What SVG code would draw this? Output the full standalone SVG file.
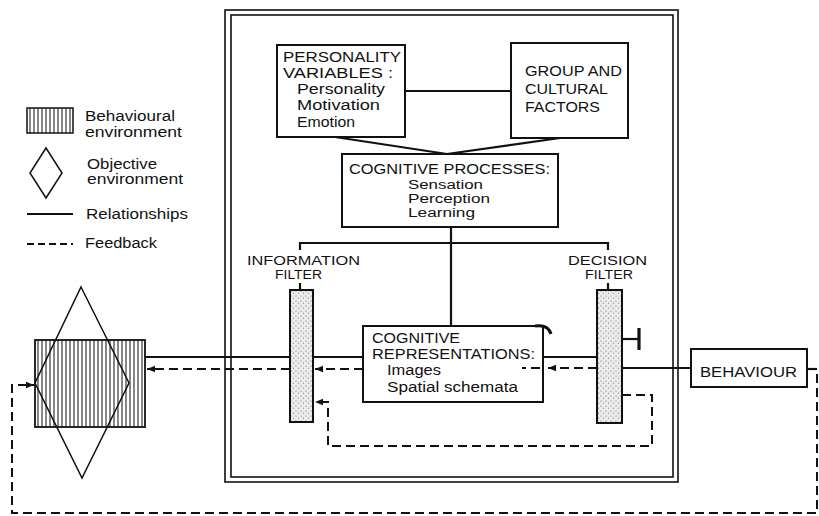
<svg xmlns="http://www.w3.org/2000/svg" width="819" height="516" viewBox="0 0 819 516">
<style>
text{font-family:"Liberation Sans",Arial,sans-serif;font-size:14px;fill:#111}
.lg{font-size:14px}
.sm{font-size:12.5px}
.box{fill:#fff;stroke:#111;stroke-width:2}
.ln{fill:none;stroke:#111;stroke-width:2.2}
.dash{fill:none;stroke:#111;stroke-width:2;stroke-dasharray:9 5}
.frame{fill:none;stroke:#111;stroke-width:1.6}
</style>
<defs>
<pattern id="hatch" patternUnits="userSpaceOnUse" x="0" y="0" width="4" height="4">
<rect width="4" height="4" fill="#fff"/>
<line x1="2" y1="0" x2="2" y2="4" stroke="#222" stroke-width="1.1"/>
</pattern>
<pattern id="stip" patternUnits="userSpaceOnUse" width="5" height="5">
<rect width="5" height="5" fill="#ececec"/>
<circle cx="1" cy="1" r="0.6" fill="#666"/>
<circle cx="3.5" cy="3.2" r="0.6" fill="#888"/>
</pattern>
<marker id="ah" markerUnits="userSpaceOnUse" markerWidth="9" markerHeight="8" refX="8" refY="4" orient="auto">
<path d="M0,0.8 L8,4 L0,7.2 z" fill="#111"/>
</marker>
</defs>

<rect width="819" height="516" fill="#fff"/>

<g id="frame">
<rect class="frame" x="225" y="10" width="453" height="472"/>
<rect class="frame" x="231" y="15" width="442" height="462"/>
</g>

<g id="legend">
<rect x="27" y="108" width="46" height="25" fill="url(#hatch)" stroke="#111" stroke-width="1.5"/>
<text class="lg" x="85" y="121" textLength="90" lengthAdjust="spacingAndGlyphs">Behavioural</text>
<text class="lg" x="85" y="137" textLength="97" lengthAdjust="spacingAndGlyphs">environment</text>
<polygon points="46,148 62,173 46,198 30,173" fill="none" stroke="#111" stroke-width="1.5"/>
<text class="lg" x="87" y="169" textLength="70" lengthAdjust="spacingAndGlyphs">Objective</text>
<text class="lg" x="87" y="184" textLength="96" lengthAdjust="spacingAndGlyphs">environment</text>
<line x1="27" y1="214" x2="73" y2="214" class="ln"/>
<text class="lg" x="86" y="219" textLength="102" lengthAdjust="spacingAndGlyphs">Relationships</text>
<line x1="27" y1="244" x2="73" y2="244" fill="none" stroke="#111" stroke-width="2" stroke-dasharray="7 4"/>
<text class="lg" x="85" y="248" textLength="72" lengthAdjust="spacingAndGlyphs">Feedback</text>
</g>

<g id="connectors">
<line class="ln" x1="405" y1="91" x2="511" y2="91"/>
<path class="ln" d="M335,137 L447,154 L560,138" stroke-width="2.6"/>
<line class="ln" x1="451" y1="227" x2="451" y2="326"/>
<path class="ln" d="M300,250 L300,243 L608,243 L608,250"/>
<line class="ln" x1="300" y1="283" x2="300" y2="290"/>
<line class="ln" x1="608" y1="283" x2="608" y2="290"/>
<line class="ln" x1="145" y1="357" x2="290" y2="357"/>
<line class="ln" x1="313" y1="357" x2="363" y2="357"/>
<line class="ln" x1="543" y1="357" x2="597" y2="357"/>
<line class="ln" x1="622" y1="368" x2="691" y2="368"/>
<line class="ln" x1="622" y1="339" x2="639" y2="339"/>
<line x1="639" y1="328" x2="639" y2="350" stroke="#111" stroke-width="3.2"/>
<path d="M535,326 Q548,324 551,334" fill="none" stroke="#111" stroke-width="3"/>
<path class="dash" d="M290,369 L147,369" marker-end="url(#ah)"/>
<path class="dash" d="M363,369 L315,369" marker-end="url(#ah)"/>
<path class="dash" d="M597,368 L548,368" marker-end="url(#ah)"/>
<path class="dash" d="M540,368 L522,368"/>
<path class="dash" d="M622,395 L652,395 L652,446 L328,446 L328,402 L315,402" marker-end="url(#ah)"/>
<line class="ln" x1="807" y1="369" x2="817" y2="369"/>
<path class="dash" d="M817,374 L817,513 L12,513 L12,385 L34,385" marker-end="url(#ah)"/>
</g>

<g id="behavioural-environment">
<rect x="35" y="340" width="110" height="87" fill="url(#hatch)" stroke="#111" stroke-width="1.8"/>
<polygon points="81,287 129,383 82,478 35,383" fill="none" stroke="#111" stroke-width="1.5"/>
</g>

<g id="personality">
<rect class="box" x="277" y="45" width="128" height="92"/>
<text x="283" y="62" textLength="118" lengthAdjust="spacingAndGlyphs">PERSONALITY</text>
<text x="283" y="78" textLength="110" lengthAdjust="spacingAndGlyphs">VARIABLES :</text>
<text x="297" y="94" textLength="88" lengthAdjust="spacingAndGlyphs">Personality</text>
<text x="297" y="110" textLength="83" lengthAdjust="spacingAndGlyphs">Motivation</text>
<text x="297" y="127" textLength="58" lengthAdjust="spacingAndGlyphs">Emotion</text>
</g>

<g id="group-cultural">
<rect class="box" x="511" y="43" width="117" height="95"/>
<text x="525" y="76" textLength="97" lengthAdjust="spacingAndGlyphs">GROUP AND</text>
<text x="525" y="94" textLength="83" lengthAdjust="spacingAndGlyphs">CULTURAL</text>
<text x="525" y="112" textLength="75" lengthAdjust="spacingAndGlyphs">FACTORS</text>
</g>

<g id="cognitive-processes">
<rect class="box" x="342" y="154" width="216" height="73"/>
<text x="349" y="174" textLength="201" lengthAdjust="spacingAndGlyphs">COGNITIVE PROCESSES:</text>
<text class="sm" x="408" y="189" textLength="75" lengthAdjust="spacingAndGlyphs">Sensation</text>
<text class="sm" x="408" y="203" textLength="82" lengthAdjust="spacingAndGlyphs">Perception</text>
<text class="sm" x="408" y="217" textLength="67" lengthAdjust="spacingAndGlyphs">Learning</text>
</g>

<g id="information-filter">
<text class="sm" x="247" y="265" textLength="113" lengthAdjust="spacingAndGlyphs">INFORMATION</text>
<text class="sm" x="275" y="279" textLength="47" lengthAdjust="spacingAndGlyphs">FILTER</text>
<rect x="290" y="290" width="23" height="132" fill="url(#stip)" stroke="#111" stroke-width="2"/>
</g>

<g id="decision-filter">
<text class="sm" x="568" y="265" textLength="79" lengthAdjust="spacingAndGlyphs">DECISION</text>
<text class="sm" x="585" y="279" textLength="48" lengthAdjust="spacingAndGlyphs">FILTER</text>
<rect x="597" y="290" width="25" height="133" fill="url(#stip)" stroke="#111" stroke-width="2"/>
</g>

<g id="cognitive-representations">
<rect x="363" y="326" width="180" height="76" fill="none" stroke="#111" stroke-width="2"/>
<text x="372" y="343" textLength="88" lengthAdjust="spacingAndGlyphs">COGNITIVE</text>
<text x="372" y="359" textLength="163" lengthAdjust="spacingAndGlyphs">REPRESENTATIONS:</text>
<text x="387" y="375" textLength="54" lengthAdjust="spacingAndGlyphs">Images</text>
<text x="387" y="392" textLength="131" lengthAdjust="spacingAndGlyphs">Spatial schemata</text>
</g>

<g id="behaviour">
<rect class="box" x="691" y="349" width="116" height="38"/>
<text x="700" y="377" textLength="97" lengthAdjust="spacingAndGlyphs">BEHAVIOUR</text>
</g>
</svg>
